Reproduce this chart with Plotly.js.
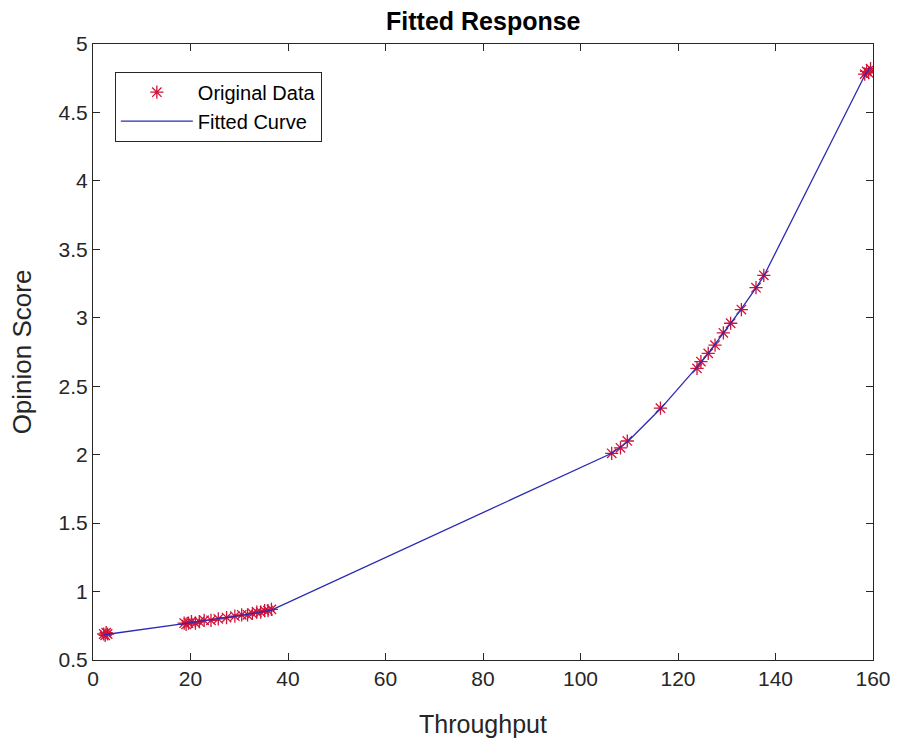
<!DOCTYPE html>
<html>
<head>
<meta charset="utf-8">
<script src="https://cdn.plot.ly/plotly-3.0.1.min.js"></script>
<style>html,body{margin:0;padding:0;background:#fff;}#chart{width:900px;height:742px;}</style>
</head>
<body>
<div id="chart"></div>
<script>
const throughput = [2.2, 2.5, 2.7, 3.0, 18.7, 19.1, 19.6, 20.2, 21.0, 21.8, 22.8, 24.2, 25.7, 27.4, 29.1, 30.5, 31.7, 32.7, 33.6, 34.4, 35.2, 35.9, 36.6, 106.4, 108.2, 109.6, 116.4, 123.9, 124.7, 126.2, 127.6, 129.3, 130.8, 133.0, 136.0, 137.6, 158.3, 158.7, 159.1, 159.5];
const opinionScore = [0.69, 0.68, 0.70, 0.69, 0.77, 0.76, 0.77, 0.78, 0.77, 0.78, 0.79, 0.79, 0.80, 0.81, 0.82, 0.83, 0.83, 0.84, 0.85, 0.85, 0.86, 0.86, 0.87, 2.01, 2.05, 2.10, 2.34, 2.63, 2.68, 2.74, 2.80, 2.89, 2.96, 3.06, 3.22, 3.31, 4.78, 4.80, 4.79, 4.82];
const fittedScore = [0.684, 0.685, 0.686, 0.688, 0.765, 0.767, 0.770, 0.773, 0.777, 0.781, 0.786, 0.793, 0.801, 0.810, 0.819, 0.827, 0.834, 0.840, 0.846, 0.851, 0.856, 0.860, 0.865, 2.010, 2.055, 2.092, 2.335, 2.635, 2.672, 2.740, 2.805, 2.885, 2.958, 3.065, 3.218, 3.305, 4.770, 4.795, 4.815, 4.835];
const xTicks = [0, 20, 40, 60, 80, 100, 120, 140, 160];
const yTicks = [0.5, 1, 1.5, 2, 2.5, 3, 3.5, 4, 4.5, 5];
const seriesNames = ['Original Data', 'Fitted Curve'];

const font = 'Liberation Sans, Arial, sans-serif';
const axisColor = '#262626';

const traces = [
  {
    x: throughput, y: opinionScore, name: seriesNames[0], mode: 'markers', type: 'scatter',
    legendgroup: 'a',
    marker: {symbol: 'asterisk-open', size: 11, color: '#d0143a', line: {color: '#d0143a', width: 1.3}}
  },
  {
    x: throughput, y: fittedScore, name: seriesNames[1], mode: 'lines', type: 'scatter',
    legendgroup: 'b',
    line: {color: '#2a2ab4', width: 1.3}
  }
];

const axisCommon = {
  showgrid: false, zeroline: false, showline: true, linecolor: axisColor, linewidth: 1,
  mirror: 'ticks', ticks: 'inside', ticklen: 7, tickcolor: axisColor, tickwidth: 1,
  tickfont: {family: font, size: 21, color: axisColor}
};

const layout = {
  width: 900, height: 742,
  margin: {l: 93, r: 27, t: 44, b: 82},
  paper_bgcolor: '#fff', plot_bgcolor: '#fff',
  title: {text: '<b>Fitted Response</b>', font: {family: font, size: 25, color: '#000'}, x: 0.537, xanchor: 'center', y: 0.972, yanchor: 'middle', yref: 'container'},
  xaxis: Object.assign({}, axisCommon, {
    range: [0, 160], tickvals: xTicks, ticktext: xTicks.map(String),
    title: {text: 'Throughput', font: {family: font, size: 25, color: axisColor}, standoff: 26}
  }),
  yaxis: Object.assign({}, axisCommon, {
    range: [0.5, 5], tickvals: yTicks, ticktext: yTicks.map(String),
    title: {text: 'Opinion Score', font: {family: font, size: 26, color: axisColor}, standoff: 19}
  }),
  showlegend: true,
  legend: {
    x: 0.028, y: 0.955, xanchor: 'left', yanchor: 'top',
    bgcolor: '#fff', bordercolor: axisColor, borderwidth: 1,
    font: {family: font, size: 20, color: '#000'},
    traceorder: 'grouped', tracegroupgap: 0, itemwidth: 72
  }
};

Plotly.newPlot('chart', traces, layout, {displayModeBar: false, staticPlot: true});
</script>
</body>
</html>
